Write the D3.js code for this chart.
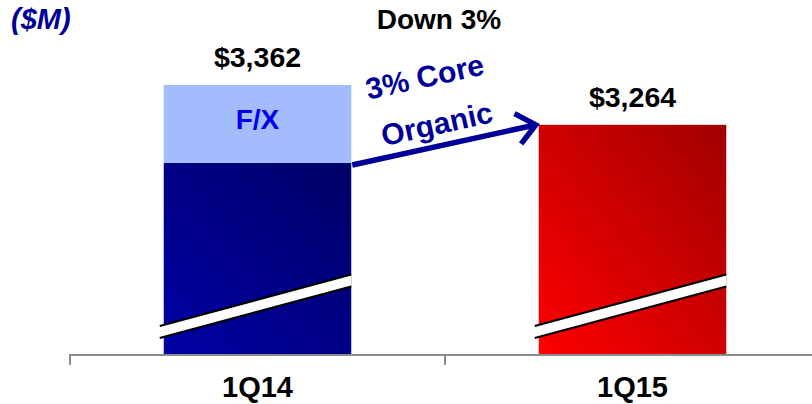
<!DOCTYPE html>
<html>
<head>
<meta charset="utf-8">
<script src="https://cdn.jsdelivr.net/npm/d3@7"></script>
<style>
  html, body { margin: 0; padding: 0; background: #fff; }
  svg { display: block; font-family: "Liberation Sans", Arial, sans-serif; }
</style>
</head>
<body>
<svg id="chart" width="812" height="404"></svg>
<script>
// Quarterly revenue, $M
const categories = ["1Q14", "1Q15"];
const totals = [3362, 3264];
const fxImpact = [192, 0];
const valueLabels = ["$3,362", "$3,264"];
const unitLabel = "($M)";
const headline = "Down 3%";
const arrowLabel = ["3% Core", "Organic"];
const fxLabel = "F/X";

const svg = d3.select("#chart");
const W = 812, H = 404;
const baseY = 354;

const x = d3.scaleBand()
  .domain(categories)
  .range([70, 820])
  .paddingInner(0.5)
  .paddingOuter(0.25);

// broken value axis: bars start above zero
const y = d3.scaleLinear()
  .domain([2700, 3362])
  .range([baseY, 85]);

const defs = svg.append("defs");
const gBlue = defs.append("linearGradient").attr("id", "gBlue")
  .attr("x1", "0%").attr("y1", "100%").attr("x2", "100%").attr("y2", "0%");
gBlue.append("stop").attr("offset", "0%").attr("stop-color", "#0000a6");
gBlue.append("stop").attr("offset", "100%").attr("stop-color", "#000066");
const gRed = defs.append("linearGradient").attr("id", "gRed")
  .attr("x1", "0%").attr("y1", "100%").attr("x2", "100%").attr("y2", "0%");
gRed.append("stop").attr("offset", "0%").attr("stop-color", "#ff0000");
gRed.append("stop").attr("offset", "100%").attr("stop-color", "#a00000");
const fills = ["url(#gBlue)", "url(#gRed)"];

const bw = x.bandwidth();
const rows = categories.map((c, i) => ({
  cat: c, total: totals[i], fx: fxImpact[i], base: totals[i] - fxImpact[i], i
}));

// core bars
svg.selectAll("rect.core").data(rows).enter().append("rect")
  .attr("class", "core")
  .attr("x", d => x(d.cat))
  .attr("width", bw)
  .attr("y", d => y(d.base))
  .attr("height", d => baseY - y(d.base))
  .attr("fill", d => fills[d.i]);

// F/X segment
svg.selectAll("rect.fx").data(rows.filter(d => d.fx > 0)).enter().append("rect")
  .attr("class", "fx")
  .attr("x", d => x(d.cat))
  .attr("width", bw)
  .attr("y", d => y(d.total))
  .attr("height", d => y(d.base) - y(d.total))
  .attr("fill", "#a3bcfd");

svg.selectAll("text.fx").data(rows.filter(d => d.fx > 0)).enter().append("text")
  .attr("class", "fx")
  .attr("x", d => x(d.cat) + bw / 2)
  .attr("y", d => (y(d.total) + y(d.base)) / 2 + 5)
  .attr("text-anchor", "middle")
  .attr("font-size", 28).attr("font-weight", "bold")
  .attr("fill", "#0000ee")
  .text(fxLabel);

// axis-break slash across each bar
rows.forEach(d => {
  const x0 = x(d.cat) - 4, x1 = x(d.cat) + bw;
  const yl = baseY - 22, yr = baseY - 73.5, h = 6;
  svg.append("path")
    .attr("d", `M${x0},${yl - h}L${x1},${yr - h}L${x1},${yr + h}L${x0},${yl + h}Z`)
    .attr("fill", "#fff");
  [-h, h].forEach(o => {
    svg.append("line")
      .attr("x1", x0).attr("y1", yl + o).attr("x2", x1).attr("y2", yr + o)
      .attr("stroke", "#000").attr("stroke-width", 2);
  });
});

// value labels
svg.selectAll("text.val").data(rows).enter().append("text")
  .attr("class", "val")
  .attr("x", d => x(d.cat) + bw / 2)
  .attr("y", d => y(d.total) - 18)
  .attr("text-anchor", "middle")
  .attr("font-size", 28.5).attr("font-weight", "bold")
  .attr("fill", "#000")
  .text((d, i) => valueLabels[i]);

// category axis with separators between bands
const step = x.step();
const edges = categories.map(c => x(c) - step * x.paddingOuter());
edges.push(edges[edges.length - 1] + step);
svg.append("line")
  .attr("x1", edges[0]).attr("x2", W + 10)
  .attr("y1", baseY + 1).attr("y2", baseY + 1)
  .attr("stroke", "#8c8c8c").attr("stroke-width", 2);
svg.selectAll("line.tick").data(edges).enter().append("line")
  .attr("class", "tick")
  .attr("x1", d => d).attr("x2", d => d)
  .attr("y1", baseY).attr("y2", baseY + 11)
  .attr("stroke", "#8c8c8c").attr("stroke-width", 2);
svg.selectAll("text.cat").data(categories).enter().append("text")
  .attr("class", "cat")
  .attr("x", d => x(d) + bw / 2)
  .attr("y", 397)
  .attr("text-anchor", "middle")
  .attr("font-size", 29).attr("font-weight", "bold")
  .text(d => d);

// unit and headline
svg.append("text")
  .attr("x", 11).attr("y", 29)
  .attr("font-size", 29).attr("font-weight", "bold").attr("font-style", "italic")
  .attr("fill", "#000099")
  .text(unitLabel);
svg.append("text")
  .attr("x", 439).attr("y", 29)
  .attr("text-anchor", "middle")
  .attr("font-size", 28).attr("font-weight", "bold")
  .text(headline);

// growth arrow from the core part of 1Q14 to 1Q15
const ax0 = x(categories[0]) + bw + 1, ay0 = y(rows[0].base) + 2;
const ax1 = x(categories[1]) - 3, ay1 = y(rows[1].total);
const ang = Math.atan2(ay1 - ay0, ax1 - ax0);
const navy = "#000099";
svg.append("line")
  .attr("x1", ax0).attr("y1", ay0)
  .attr("x2", ax1 - 3 * Math.cos(ang)).attr("y2", ay1 - 3 * Math.sin(ang))
  .attr("stroke", navy).attr("stroke-width", 5.5);
const hl = 24, ha = 0.7;
svg.append("path")
  .attr("d", `M${ax1 - hl * Math.cos(ang - ha)},${ay1 - hl * Math.sin(ang - ha)}` +
             `L${ax1},${ay1}` +
             `L${ax1 - hl * Math.cos(ang + ha)},${ay1 - hl * Math.sin(ang + ha)}`)
  .attr("fill", "none").attr("stroke", navy).attr("stroke-width", 5.5)
  .attr("stroke-linejoin", "miter").attr("stroke-linecap", "butt");

const deg = ang * 180 / Math.PI;
[[427, 87], [439, 134]].forEach((p, i) => {
  svg.append("text")
    .attr("transform", `translate(${p[0]},${p[1]}) rotate(${deg})`)
    .attr("text-anchor", "middle")
    .attr("font-size", 30).attr("font-weight", "bold")
    .attr("fill", navy)
    .text(arrowLabel[i]);
});
</script>
</body>
</html>
